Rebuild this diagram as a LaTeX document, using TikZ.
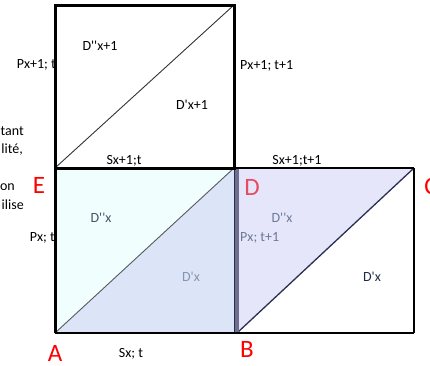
\documentclass[tikz,border=0pt]{standalone}
\usepackage{fontspec}
\setmainfont{Carlito}[Ligatures=TeXOff]
\definecolor{cyanfill}{HTML}{F0FFFE}
\definecolor{bluefill}{HTML}{DCE4F8}
\definecolor{lavfill}{HTML}{E6E6FA}
\definecolor{txtA}{HTML}{44546A}
\definecolor{txtB}{HTML}{8496B0}
\definecolor{txtC}{HTML}{6C7A98}
\definecolor{txtD}{HTML}{1F2B44}
\definecolor{pinkred}{HTML}{E64B63}
\definecolor{bandcol}{HTML}{6E6E8E}
\definecolor{navy}{HTML}{2A3050}
\begin{document}
\begin{tikzpicture}[x=1pt,y=-1pt,
  lab/.style={inner sep=0pt, font=\fontsize{14}{16}\selectfont},
  big/.style={inner sep=0pt, font=\fontsize{25}{28}\selectfont, text=red},
  frame/.style={line width=3pt, black},
  edge/.style={line width=2.5pt, black},
  diag/.style={line width=0.9pt, black!80},
]
\useasboundingbox (0,0) rectangle (430,365);
% corner coordinates
\coordinate (T1) at (55,5);
\coordinate (T2) at (234,5);
\coordinate (E) at (55,168);
\coordinate (D) at (234,168);
\coordinate (A) at (55,333);
\coordinate (B) at (234,333);
\coordinate (D2) at (237,168);
\coordinate (B2) at (237,333);
\coordinate (C) at (414,168);
\coordinate (F) at (414,333);
% fills
\fill[cyanfill] (E) -- (D) -- (A) -- cycle;
\fill[bluefill] (A) -- (D) -- (B) -- cycle;
\fill[lavfill] (D2) -- (C) -- (B2) -- cycle;
% diagonals
\draw[diag] (E) -- (T2);
\draw[diag, black!65] (A) -- (D);
\draw[line width=1.3pt, navy] (B2) -- (C);
% gray band and thin edge
\draw[line width=4pt, bandcol] (D2) -- (B2);
\draw[line width=1pt, navy] (D) -- (B);
\draw[line width=0.8pt, txtB] (A) -- (B);
% black frames
\draw[frame] (E) rectangle (T2);
\draw[frame] (E) -- (A);
\draw[edge] (A) -- (F);
\draw[edge] (D) -- (C);
\draw[edge] (C) -- (F);
% labels
\node[lab] (l1) at (100,46) {D'{}'x+1};
\node[lab, anchor=east] (l2) at (56,65) {Px+1; t};
\node[lab] (l3) at (192,105) {D'x+1};
\node[lab] (l4) at (124,161) {Sx+1;t};
\node[lab, anchor=west] (l5) at (240,66) {Px+1; t+1};
\node[lab] (l6) at (297,161) {Sx+1;t+1};
\node[lab, text=txtA] (l7) at (101,218) {D'{}'x};
\node[lab, anchor=east] (l8) at (55,238) {Px; t};
\node[lab, text=txtB] (l9) at (191,277) {D'x};
\node[lab] (l10) at (131,354) {Sx; t};
\node[lab, text=txtC] (l11) at (282,218) {D'{}'x};
\node[lab, text=txtC, anchor=west] (l12) at (240,238) {Px; t+1};
\node[lab, text=txtD] (l13) at (372,277) {D'x};
% cut text fragments
\node[lab, anchor=east] (f1) at (24,131) {tant};
\node[lab, anchor=east] (f2) at (23,150) {lité,};
\node[lab, anchor=east] (f3) at (15,187) {on};
\node[lab, anchor=east] (f4) at (24,205) {ilise};
% point letters
\node[big] (nE) at (39,185) {E};
\node[big] (nA) at (55,353) {A};
\node[big, text=pinkred] (nD) at (252,187) {D};
\node[big] (nB) at (247,349) {B};
\node[big] (nC) at (431,186) {C};
\end{tikzpicture}
\end{document}
